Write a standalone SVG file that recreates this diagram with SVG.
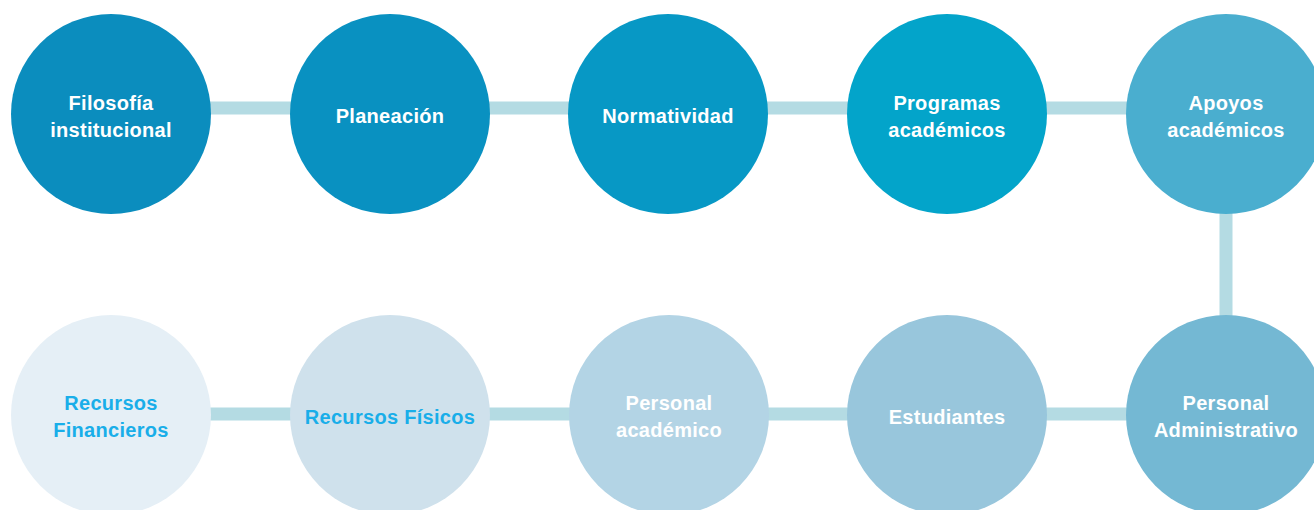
<svg xmlns="http://www.w3.org/2000/svg" width="1314" height="510" viewBox="0 0 1314 510">
<style>
.c{stroke:none}
.t{font-family:"Liberation Sans",Arial,sans-serif;font-weight:bold;font-size:20px;text-anchor:middle;fill:#ffffff;letter-spacing:0.3px}
.b{fill:#19aee9}
.con{stroke:#b4dbe3;stroke-width:13;fill:none}
</style>
<rect width="1314" height="510" fill="#ffffff"/>
<g id="connectors">
<line class="con" x1="111" y1="108" x2="1226" y2="108"/>
<line class="con" x1="1226" y1="114" x2="1226" y2="415"/>
<line class="con" x1="111" y1="414" x2="1226" y2="414"/>
</g>
<g id="n1"><circle class="c" cx="111" cy="114" r="100" fill="#0b8dbe"/><text class="t" x="111" y="110">Filosofía</text><text class="t" x="111" y="137">institucional</text></g>
<g id="n2"><circle class="c" cx="390" cy="114" r="100" fill="#0991c1"/><text class="t" x="390" y="123">Planeación</text></g>
<g id="n3"><circle class="c" cx="668" cy="114" r="100" fill="#0798c5"/><text class="t" x="668" y="123">Normatividad</text></g>
<g id="n4"><circle class="c" cx="947" cy="114" r="100" fill="#03a4ca"/><text class="t" x="947" y="110">Programas</text><text class="t" x="947" y="137">académicos</text></g>
<g id="n5"><circle class="c" cx="1226" cy="114" r="100" fill="#4aaecf"/><text class="t" x="1226" y="110">Apoyos</text><text class="t" x="1226" y="137">académicos</text></g>
<g id="n6"><circle class="c" cx="1226" cy="415" r="100" fill="#74b8d3"/><text class="t" x="1226" y="410">Personal</text><text class="t" x="1226" y="437">Administrativo</text></g>
<g id="n7"><circle class="c" cx="947" cy="415" r="100" fill="#98c6dc"/><text class="t" x="947" y="424">Estudiantes</text></g>
<g id="n8"><circle class="c" cx="669" cy="415" r="100" fill="#b3d4e5"/><text class="t" x="669" y="410">Personal</text><text class="t" x="669" y="437">académico</text></g>
<g id="n9"><circle class="c" cx="390" cy="415" r="100" fill="#cfe1ec"/><text class="t b" x="390" y="424">Recursos Físicos</text></g>
<g id="n10"><circle class="c" cx="111" cy="415" r="100" fill="#e5eff6"/><text class="t b" x="111" y="410">Recursos</text><text class="t b" x="111" y="437">Financieros</text></g>
</svg>
